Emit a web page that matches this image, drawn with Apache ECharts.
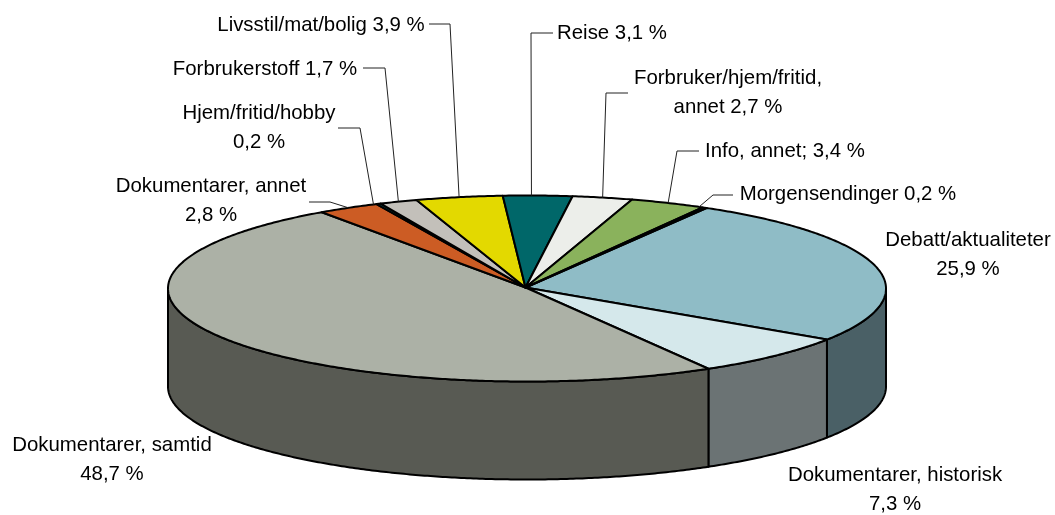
<!DOCTYPE html>
<html>
<head>
<meta charset="utf-8">
<style>html,body{margin:0;padding:0;background:#fff}#c{width:1055px;height:515px}</style>
<script src="https://cdn.jsdelivr.net/npm/echarts@6/dist/echarts.min.js"></script>
</head>
<body>
<div id="c"></div>
<script>
var categories = ['Debatt/aktualiteter','Dokumentarer, historisk','Dokumentarer, samtid','Dokumentarer, annet','Hjem/fritid/hobby','Forbrukerstoff','Livsstil/mat/bolig','Reise','Forbruker/hjem/fritid, annet','Info, annet','Morgensendinger'];
var shares = [25.9,7.3,48.7,2.8,0.2,1.7,3.9,3.1,2.7,3.4,0.2];
var labelLines = [
  ['Debatt/aktualiteter','25,9 %'],
  ['Dokumentarer, historisk','7,3 %'],
  ['Dokumentarer, samtid','48,7 %'],
  ['Dokumentarer, annet','2,8 %'],
  ['Hjem/fritid/hobby','0,2 %'],
  ['Forbrukerstoff 1,7 %'],
  ['Livsstil/mat/bolig 3,9 %'],
  ['Reise 3,1 %'],
  ['Forbruker/hjem/fritid,','annet 2,7 %'],
  ['Info, annet; 3,4 %'],
  ['Morgensendinger 0,2 %']
];
var topColors = ['#8FBCC6','#D5E8EB','#ACB1A6','#CC5C24','#006666','#C3C0BA','#E3D900','#006769','#ECEEEA','#8AB25C','#1a3a20'];
var sideColors = ['#4A6066','#6B7374','#585A53','#662E12','#003333','#62605D','#726D00','#003435','#767775','#45592E','#111'];

// layout: label centre x, first-line centre y; leader: start and elbow, tip angle nudge
var labelLayout = [
  {x:968,y:240},{x:895,y:475},{x:112,y:445},
  {x:211,y:186,lead:[[309,202],[330,202]]},
  {x:259,y:113,lead:[[338,128],[360,128]],tip:-0.9},
  {x:265,y:69,lead:[[363,68],[385,68]]},
  {x:321,y:25,lead:[[429,24],[450,24]]},
  {x:612,y:33,lead:[[553,33],[531,33]],tip:-1},
  {x:728,y:78,lead:[[628,93],[606,93]]},
  {x:785,y:151,lead:[[699,151],[677,151]]},
  {x:848,y:194,lead:[[733,195],[713,195]],tip:-1}
];

var CX=527, CY=288.5, RX=359, RY=93, DEPTH=98, START=30, LINE_H=29;
var APEX=[525.5,287.5];
var total = shares.reduce(function(a,b){return a+b;},0);
var ranges = [], acc = 0;
shares.forEach(function(v){
  var a0 = START + acc/total*360; acc += v;
  ranges.push([a0, START + acc/total*360]);
});
function pt(deg,dy){
  var r = deg*Math.PI/180;
  return [CX+RX*Math.sin(r), CY-RY*Math.cos(r)+(dy||0)];
}
function arc(a0,a1,dy){
  var n = Math.max(2,Math.ceil(Math.abs(a1-a0)*2)), out=[];
  for(var i=0;i<=n;i++) out.push(pt(a0+(a1-a0)*i/n,dy));
  return out;
}
function sliceStyle(fill){ return {fill:fill,stroke:'#000',lineWidth:2,lineJoin:'round'}; }

function renderSide(params){
  var i=params.dataIndex, a0=Math.max(ranges[i][0],90), a1=Math.min(ranges[i][1],270);
  if(a1<=a0) return {type:'group',children:[]};
  var pts = arc(a0,a1,0).concat(arc(a1,a0,DEPTH));
  return {type:'polygon',shape:{points:pts},style:sliceStyle(sideColors[i])};
}
function renderTop(params){
  var i=params.dataIndex;
  var pts=[APEX].concat(arc(ranges[i][0],ranges[i][1],0));
  return {type:'polygon',shape:{points:pts},style:sliceStyle(topColors[i])};
}
function renderLabel(params){
  var i=params.dataIndex, L=labelLayout[i], kids=[];
  labelLines[i].forEach(function(t,k){
    kids.push({type:'text',style:{text:t,x:L.x,y:L.y+k*LINE_H,align:'center',verticalAlign:'middle',
      fill:'#000',font:'20.4px "Liberation Sans", Arial, sans-serif'}});
  });
  if(L.lead){
    var mid=(ranges[i][0]+ranges[i][1])/2+(L.tip||0);
    kids.push({type:'polyline',shape:{points:L.lead.concat([pt(mid,0)])},style:{stroke:'#222',lineWidth:1,fill:null}});
  }
  return {type:'group',children:kids};
}
var data = shares.map(function(v,i){return {name:categories[i],value:v};});
var chart = echarts.init(document.getElementById('c'),null,{renderer:'canvas'});
chart.setOption({
  animation:false,
  backgroundColor:'#fff',
  series:[
    {type:'custom',coordinateSystem:'none',renderItem:renderSide,data:data,z:1,silent:true},
    {type:'custom',coordinateSystem:'none',renderItem:renderTop,data:data,z:2,silent:true},
    {type:'custom',coordinateSystem:'none',renderItem:renderLabel,data:data,z:3,silent:true}
  ]
});
</script>
</body>
</html>
